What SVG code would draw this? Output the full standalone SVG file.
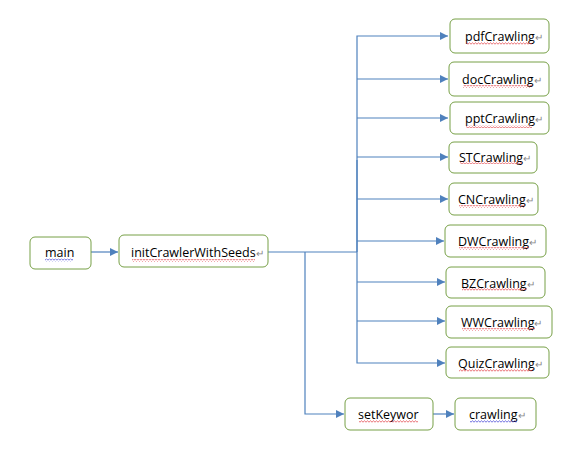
<svg xmlns="http://www.w3.org/2000/svg" width="562" height="463" viewBox="0 0 562 463">
<style>
.box{fill:#fff;stroke:#77A046;stroke-width:1}
.t{font-family:"Open Sans","Liberation Sans",sans-serif;font-size:12.5px;fill:#000}
.pm{fill:#888;font-size:10px}
.c{fill:none;stroke:#4F81BD;stroke-width:1.2}
.sq{fill:url(#wr)}
.sqb{fill:url(#wb)}
</style>
<defs>
<marker id="ah" viewBox="0 0 10 10" refX="10" refY="5" markerWidth="8" markerHeight="8" markerUnits="userSpaceOnUse" orient="auto">
<path d="M0,0 L10,5 L0,10 z" fill="#4F81BD"/>
</marker>
<pattern id="wr" patternUnits="userSpaceOnUse" width="3" height="3">
<path d="M0,2.2 L1.5,0.8 L3,2.2" fill="none" stroke="#E0303A" stroke-width="0.7"/>
</pattern>
<pattern id="wb" patternUnits="userSpaceOnUse" width="3" height="3">
<path d="M0,2.2 L1.5,0.8 L3,2.2" fill="none" stroke="#3030D0" stroke-width="0.7"/>
</pattern>
</defs>
<rect width="562" height="463" fill="#fff"/>
<g id="connectors">
<path class="c" d="M91,252 H118" marker-end="url(#ah)"/>
<path class="c" d="M268,252 H357" stroke-width="2"/>
<path class="c" d="M357,252 V36 H448" marker-end="url(#ah)"/>
<path class="c" d="M357,79 H448" marker-end="url(#ah)"/>
<path class="c" d="M357,118 H448" marker-end="url(#ah)"/>
<path class="c" d="M357,157 H448" marker-end="url(#ah)"/>
<path class="c" d="M357,199 H448" marker-end="url(#ah)"/>
<path class="c" d="M357,241 H444" marker-end="url(#ah)"/>
<path class="c" d="M357,252 V363 H445" marker-end="url(#ah)"/>
<path class="c" d="M357,282 H445" marker-end="url(#ah)"/>
<path class="c" d="M357,321 H445" marker-end="url(#ah)"/>
<path class="c" d="M357,160 V252" stroke-width="2"/>
<path class="c" d="M305,252 V414 H344" marker-end="url(#ah)"/>
<path class="c" d="M433,414 H454" marker-end="url(#ah)"/>
</g>
<g id="main">
<rect class="box" x="30" y="237" width="61" height="32" rx="5"/>
<text class="t" x="45" y="257">main</text>
<rect class="sqb" x="45" y="258.5" width="28" height="3"/>
</g>
<g id="initCrawlerWithSeeds">
<rect class="box" x="119" y="235" width="149" height="32" rx="5"/>
<text class="t" x="131" y="257">initCrawlerWithSeeds<tspan class="pm">↵</tspan></text>
<rect class="sq" x="132" y="259" width="123" height="3"/>
</g>
<g id="pdfCrawling">
<rect class="box" x="450" y="19" width="99" height="34" rx="5"/>
<text class="t" x="465" y="41">pdfCrawling<tspan class="pm">↵</tspan></text>
<rect class="sq" x="466" y="42" width="66" height="3"/>
</g>
<g id="docCrawling">
<rect class="box" x="449" y="62" width="100" height="34" rx="5"/>
<text class="t" x="462" y="84">docCrawling<tspan class="pm">↵</tspan></text>
<rect class="sq" x="463" y="85" width="69" height="3"/>
</g>
<g id="pptCrawling">
<rect class="box" x="450" y="102" width="99" height="32" rx="5"/>
<text class="t" x="465" y="123">pptCrawling<tspan class="pm">↵</tspan></text>
<rect class="sq" x="466" y="125" width="66" height="3"/>
</g>
<g id="STCrawling">
<rect class="box" x="449" y="142" width="88" height="31" rx="5"/>
<text class="t" x="459" y="162">STCrawling<tspan class="pm">↵</tspan></text>
<rect class="sq" x="460" y="161" width="62" height="3"/>
</g>
<g id="CNCrawling">
<rect class="box" x="449" y="183" width="89" height="32" rx="5"/>
<text class="t" x="458" y="204">CNCrawling<tspan class="pm">↵</tspan></text>
<rect class="sq" x="459" y="205" width="66" height="3"/>
</g>
<g id="DWCrawling">
<rect class="box" x="445" y="225" width="101" height="32" rx="5"/>
<text class="t" x="458" y="246">DWCrawling<tspan class="pm">↵</tspan></text>
<rect class="sq" x="459" y="247" width="70" height="3"/>
</g>
<g id="BZCrawling">
<rect class="box" x="446" y="267" width="99" height="31" rx="5"/>
<text class="t" x="461" y="288">BZCrawling<tspan class="pm">↵</tspan></text>
<rect class="sq" x="462" y="288" width="65" height="3"/>
</g>
<g id="WWCrawling">
<rect class="box" x="446" y="306" width="106" height="32" rx="5"/>
<text class="t" x="461" y="327">WWCrawling<tspan class="pm">↵</tspan></text>
<rect class="sq" x="462" y="328" width="73" height="3"/>
</g>
<g id="QuizCrawling">
<rect class="box" x="446" y="347" width="103" height="31" rx="5"/>
<text class="t" x="458" y="368">QuizCrawling<tspan class="pm">↵</tspan></text>
<rect class="sq" x="459" y="369" width="74" height="3"/>
</g>
<g id="setKeywor">
<rect class="box" x="345" y="398" width="88" height="32" rx="5"/>
<text class="t" x="358" y="419">setKeywor</text>
<rect class="sq" x="359" y="420" width="59" height="3"/>
</g>
<g id="crawling">
<rect class="box" x="455" y="398" width="81" height="32" rx="5"/>
<text class="t" x="469" y="419">crawling<tspan class="pm">↵</tspan></text>
<rect class="sqb" x="470" y="420" width="47" height="3"/>
</g>
</svg>
